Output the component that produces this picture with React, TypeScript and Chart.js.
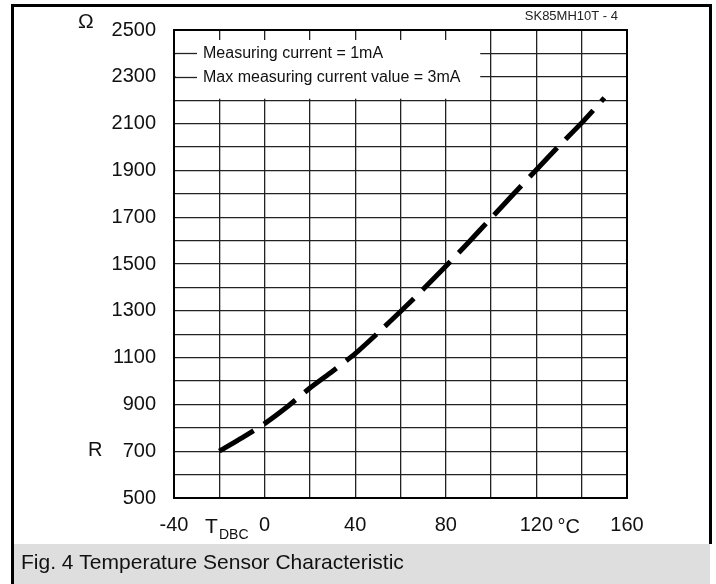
import React, { useEffect, useRef } from "react";
import { Chart, registerables } from "chart.js";

Chart.register(...registerables);

// ---- data ----
const temperatures = [-20, -10, 0, 10, 20, 30, 40, 50, 60, 70, 80, 90, 100, 110, 120, 130, 140, 150];
const resistances = [700, 757, 818, 890, 970, 1042, 1117, 1205, 1297, 1392, 1490, 1592, 1696, 1800, 1903, 2005, 2103, 2210];
const xTickLabels = [-40, 0, 40, 80, 120, 160];
const yTickLabels = [500, 700, 900, 1100, 1300, 1500, 1700, 1900, 2100, 2300, 2500];
const legendTexts = ["Measuring current = 1mA", "Max measuring current value = 3mA"];
const legendRows = [2400, 2300];
const captionText = "Fig. 4 Temperature Sensor Characteristic";
const docRefText = "SK85MH10T - 4";
const yUnitText = "Ω";
const yNameText = "R";
const xNameMain = "T";
const xNameSub = "DBC";
const xUnitText = "°C";

const FONT = "'Liberation Sans', Arial, Helvetica, sans-serif";
const INK = "#111";

const decorPlugin = {
  id: "decor",
  beforeDraw(chart: any) {
    const ctx = chart.ctx;
    ctx.save();
    ctx.fillStyle = "#fff";
    ctx.fillRect(0, 0, chart.width, chart.height);
    // caption band
    ctx.fillStyle = "#dedede";
    ctx.fillRect(14, 544, 696, 40);
    // frame
    ctx.fillStyle = "#000";
    ctx.fillRect(11, 4, 701, 3);
    ctx.fillRect(11, 4, 3, 580);
    ctx.fillRect(709, 4, 3, 540);
    // caption text
    ctx.fillStyle = INK;
    ctx.font = `21px ${FONT}`;
    ctx.textBaseline = "alphabetic";
    ctx.textAlign = "left";
    ctx.fillText(captionText, 21, 569);
    ctx.restore();
  },
  beforeDatasetsDraw(chart: any) {
    const { ctx, chartArea, scales } = chart;
    const xs = scales.x;
    const ys = scales.y;
    ctx.save();
    const boxLeft = chartArea.left + 1.5;
    const boxRight = xs.getPixelForValue(95.2);
    const boxTop = chartArea.top + 10;
    const boxBottom = ys.getPixelForValue(2200) - 1.5;
    ctx.fillStyle = "#fff";
    ctx.fillRect(boxLeft, boxTop, boxRight - boxLeft, boxBottom - boxTop);
    ctx.strokeStyle = "#222";
    ctx.lineWidth = 1.3;
    ctx.font = `16px ${FONT}`;
    ctx.fillStyle = INK;
    ctx.textBaseline = "middle";
    ctx.textAlign = "left";
    legendRows.forEach((v, i) => {
      const py = Math.round(ys.getPixelForValue(v)) + 0.5;
      ctx.beginPath();
      ctx.moveTo(chartArea.left, py);
      ctx.lineTo(chartArea.left + 23, py);
      ctx.stroke();
      ctx.fillText(legendTexts[i], chartArea.left + 29, py + 0.5);
    });
    ctx.restore();
  },
  afterDatasetsDraw(chart: any) {
    const { ctx, chartArea } = chart;
    ctx.save();
    ctx.strokeStyle = "#000";
    ctx.lineWidth = 2;
    ctx.strokeRect(chartArea.left, chartArea.top, chartArea.right - chartArea.left, chartArea.bottom - chartArea.top);
    ctx.restore();
  },
  afterDraw(chart: any) {
    const { ctx, scales, chartArea } = chart;
    const xs = scales.x;
    const ys = scales.y;
    ctx.save();
    ctx.fillStyle = INK;
    ctx.textAlign = "left";
    ctx.textBaseline = "alphabetic";
    // y unit and name
    ctx.font = `21px ${FONT}`;
    ctx.fillText(yUnitText, 78, 28);
    ctx.font = `20px ${FONT}`;
    ctx.fillText(yNameText, 88, ys.getPixelForValue(700) + 5);
    // x name T_DBC
    ctx.font = `21px ${FONT}`;
    ctx.fillText(xNameMain, 205, 533);
    ctx.font = `14px ${FONT}`;
    ctx.fillText(xNameSub, 219, 539);
    // x unit
    ctx.font = `20px ${FONT}`;
    ctx.fillText(xUnitText, xs.getPixelForValue(120) + 21, 533);
    // doc ref
    ctx.font = `13px ${FONT}`;
    ctx.textAlign = "right";
    ctx.fillStyle = "#222";
    ctx.fillText(docRefText, chartArea.right - 9, 20);
    ctx.restore();
  },
};

export default function App() {
  const canvasRef = useRef<HTMLCanvasElement | null>(null);

  useEffect(() => {
    const canvas = canvasRef.current;
    if (!canvas) return;
    const points = temperatures.map((t, i) => ({ x: t, y: resistances[i] }));
    const chart = new Chart(canvas, {
      type: "line",
      data: {
        datasets: [
          {
            data: points,
            borderColor: "#000",
            borderWidth: 5,
            borderDash: [40, 12],
            borderCapStyle: "butt",
            pointRadius: 0,
            tension: 0.2,
            fill: false,
          },
        ],
      },
      options: {
        animation: false,
        responsive: false,
        devicePixelRatio: 1,
        events: [],
        layout: { padding: { left: 0, top: 27, right: 89, bottom: 36 } },
        plugins: { legend: { display: false }, tooltip: { enabled: false }, title: { display: false } },
        scales: {
          x: {
            type: "linear",
            min: -40,
            max: 160,
            afterFit: (s: any) => {
              s.height = 50;
            },
            ticks: {
              stepSize: 20,
              autoSkip: false,
              maxRotation: 0,
              padding: 15,
              color: INK,
              font: { family: FONT, size: 20 },
              callback: (v: any) => (xTickLabels.includes(Number(v)) ? String(v) : ""),
            },
            grid: { color: "#222", lineWidth: 1.3, drawTicks: false },
            border: { display: true, color: "#000", width: 2 },
          },
          y: {
            type: "linear",
            min: 500,
            max: 2500,
            afterFit: (s: any) => {
              s.width = 174;
            },
            ticks: {
              stepSize: 100,
              autoSkip: false,
              padding: 18,
              color: INK,
              font: { family: FONT, size: 20 },
              callback: (v: any) => (yTickLabels.includes(Number(v)) ? String(v) : ""),
            },
            grid: { color: "#222", lineWidth: 1.3, drawTicks: false },
            border: { display: true, color: "#000", width: 2 },
          },
        },
      },
      plugins: [decorPlugin],
    } as any);
    return () => chart.destroy();
  }, []);

  return (
    <div style={{ position: "fixed", left: 0, top: 0, width: 716, height: 584 }}>
      <canvas ref={canvasRef} width={716} height={584} style={{ display: "block", width: 716, height: 584 }} />
    </div>
  );
}
